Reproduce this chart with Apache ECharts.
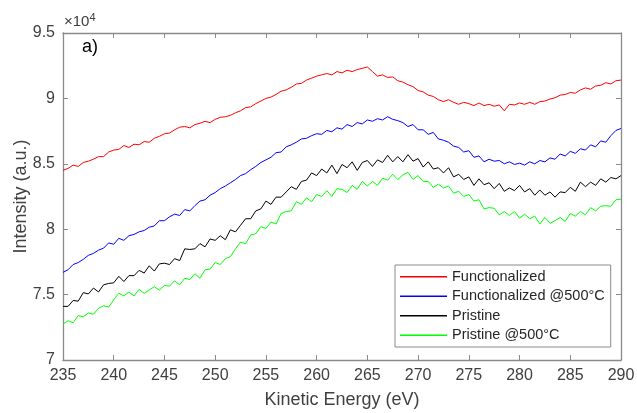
<!DOCTYPE html>
<html>
<head>
<meta charset="utf-8">
<script src="https://cdn.jsdelivr.net/npm/echarts@6/dist/echarts.min.js"></script>
<style>html,body{margin:0;padding:0;background:#fff;}#c{width:637px;height:413px;}</style>
</head>
<body>
<div id="c"></div>
<script>
const energy = [235,235.5,236,236.5,237,237.5,238,238.5,239,239.5,240,240.5,241,241.5,242,242.5,243,243.5,244,244.5,245,245.5,246,246.5,247,247.5,248,248.5,249,249.5,250,250.5,251,251.5,252,252.5,253,253.5,254,254.5,255,255.5,256,256.5,257,257.5,258,258.5,259,259.5,260,260.5,261,261.5,262,262.5,263,263.5,264,264.5,265,265.5,266,266.5,267,267.5,268,268.5,269,269.5,270,270.5,271,271.5,272,272.5,273,273.5,274,274.5,275,275.5,276,276.5,277,277.5,278,278.5,279,279.5,280,280.5,281,281.5,282,282.5,283,283.5,284,284.5,285,285.5,286,286.5,287,287.5,288,288.5,289,289.5,290];

const functionalized = [84500,84650,84900,84800,85100,85200,85350,85550,85550,85900,86050,86100,86400,86250,86500,86450,86700,86650,86950,87100,87300,87350,87600,87800,87850,87750,88000,88100,88250,88150,88400,88550,88600,88700,88900,89050,89300,89350,89600,89800,90000,90100,90300,90550,90650,90850,91100,91150,91400,91550,91700,91800,91900,91800,92050,91950,92150,92050,92200,92300,92400,92050,91700,91800,91600,91650,91350,91250,91050,90900,90600,90500,90250,90150,89900,89750,89900,89700,89550,89700,89600,89450,89650,89450,89550,89400,89500,89050,89550,89500,89650,89550,89700,89550,89750,89800,89950,90050,90250,90300,90450,90400,90650,90800,90700,90950,91000,91200,91100,91350,91400];

const functionalized500 = [76700,76900,77300,77450,77700,78000,78150,78400,78550,78950,78850,79300,79150,79500,79600,79800,79900,80150,80250,80650,80650,80950,81150,81050,81500,81400,81800,82150,82250,82600,82800,83100,83300,83550,83800,84100,84250,84550,84800,85100,85300,85500,85850,85900,86300,86450,86650,86900,86950,87150,87300,87250,87550,87450,87750,87650,88000,87850,88150,88050,88350,88250,88450,88350,88600,88400,88300,88150,87850,88000,87600,87600,87250,87400,86900,86800,86650,86350,86250,85900,86000,85500,85600,85150,85350,85200,85250,85000,85150,84950,85050,84900,85150,85000,85250,85150,85450,85350,85750,85600,85950,85800,86150,86050,86450,86300,86750,86650,87150,87550,87700];

const pristine = [74100,74100,74550,74500,75150,75050,75500,75200,75750,75850,75900,76400,76000,76450,76450,76850,76650,77200,76800,77350,77400,77300,77750,77600,78500,78450,78500,78900,78650,79250,79150,79500,79200,79950,79800,80300,80800,80800,81400,81550,82150,81900,82450,82450,82850,83250,83050,83650,83750,84300,84100,84600,84300,84900,84250,84950,84700,85150,84500,85100,85250,84800,85300,85100,85650,85150,85550,85150,85700,85200,85400,84750,85150,84600,84700,84300,84700,84000,84200,83800,84000,83350,83850,83400,83550,83100,83500,82900,83150,82950,83350,82850,83100,82600,83000,82600,82850,82450,82850,82800,83200,82900,83600,83250,83600,83350,83850,83600,83950,83850,84100];

const pristine500 = [72750,73000,72850,73400,73300,73600,73500,73950,74150,74050,74600,75100,74900,75200,74900,75400,75100,75350,75600,75350,75700,75650,76050,75750,76250,76150,76600,76250,76900,76950,77450,77300,77750,77900,78500,79000,78900,79550,79650,80200,80050,80550,80400,81200,81350,81400,82100,81900,82400,82100,82650,82500,82950,82500,83100,83050,82800,83350,83050,83650,83300,83650,83350,83900,83750,84200,83800,84150,84350,83800,84100,83650,83650,83200,83450,83150,83300,82750,82900,82500,82650,82150,82250,81550,81650,81600,81100,81350,81050,81350,80850,81150,80800,81000,80400,80900,80450,80650,80900,80600,81200,81000,81350,81100,81650,81400,81750,81800,81750,82250,82300];

const seriesNames = ['Functionalized', 'Functionalized @500°C', 'Pristine', 'Pristine @500°C'];
const seriesColors = ['#ff0000', '#0000ff', '#000000', '#00ff00'];
const seriesValues = [functionalized, functionalized500, pristine, pristine500];

const xTicks = {min: 235, max: 290, interval: 5};
const yTicks = {min: 70000, max: 95000, interval: 5000};

const chart = echarts.init(document.getElementById('c'), null, {renderer: 'canvas'});
const axisCol = '#8a8a8a';
const textCol = '#404040';
const fontFam = 'Liberation Sans, Arial, Helvetica, sans-serif';

function pairs(vals) { return energy.map((e, i) => [e, vals[i]]); }

const option = {
  animation: false,
  backgroundColor: '#ffffff',
  textStyle: {fontFamily: fontFam},
  grid: {left: 63, right: 16, top: 33, bottom: 53, containLabel: false, outerBoundsMode: 'none'},
  xAxis: [
    {type: 'value', min: xTicks.min, max: xTicks.max, interval: xTicks.interval, position: 'bottom',
     axisLine: {show: true, lineStyle: {color: axisCol, width: 1.3}},
     axisTick: {show: true, inside: true, length: 5, lineStyle: {color: axisCol}},
     axisLabel: {color: textCol, fontSize: 16, margin: 8, fontFamily: fontFam},
     splitLine: {show: false},
     name: 'Kinetic Energy (eV)', nameLocation: 'middle', nameGap: 31, nameMoveOverlap: false,
     nameTextStyle: {color: textCol, fontSize: 18, fontFamily: fontFam}},
    {type: 'value', min: xTicks.min, max: xTicks.max, interval: xTicks.interval, position: 'top',
     axisLine: {show: true, lineStyle: {color: axisCol, width: 1.3}},
     axisTick: {show: true, inside: true, length: 5, lineStyle: {color: axisCol}},
     axisLabel: {show: false}, splitLine: {show: false}}
  ],
  yAxis: [
    {type: 'value', min: yTicks.min, max: yTicks.max, interval: yTicks.interval, position: 'left',
     axisLine: {show: true, lineStyle: {color: axisCol, width: 1.3}},
     axisTick: {show: true, inside: true, length: 5, lineStyle: {color: axisCol}},
     axisLabel: {color: textCol, fontSize: 16, margin: 8, fontFamily: fontFam,
                 formatter: v => String(v / 10000)},
     splitLine: {show: false},
     name: 'Intensity (a.u.)', nameLocation: 'middle', nameGap: 33, nameRotate: 90, nameMoveOverlap: false,
     nameTextStyle: {color: textCol, fontSize: 18, fontFamily: fontFam}},
    {type: 'value', min: yTicks.min, max: yTicks.max, interval: yTicks.interval, position: 'right',
     axisLine: {show: true, lineStyle: {color: axisCol, width: 1.3}},
     axisTick: {show: true, inside: true, length: 5, lineStyle: {color: axisCol}},
     axisLabel: {show: false}, splitLine: {show: false}}
  ],
  legend: {
    orient: 'vertical', left: 395, top: 265,
    icon: 'rect', itemWidth: 47, itemHeight: 1.5, itemGap: 4,
    padding: [4, 6, 4, 5],
    borderColor: '#8a8a8a', borderWidth: 1, backgroundColor: '#ffffff',
    textStyle: {color: '#262626', fontSize: 14.5, fontFamily: fontFam, lineHeight: 15.5},
    data: seriesNames
  },
  series: seriesNames.map((n, i) => ({
    name: n, type: 'line', xAxisIndex: 0, yAxisIndex: 0,
    data: pairs(seriesValues[i]),
    symbol: 'none', showSymbol: false,
    lineStyle: {color: seriesColors[i], width: 1},
    itemStyle: {color: seriesColors[i]}
  })),
  graphic: [
    {type: 'text', left: 64, top: 12,
     style: {text: '×10{s|4}', fill: textCol, font: '15px ' + fontFam,
             rich: {s: {fontSize: 11, verticalAlign: 'top', padding: [0, 0, 8, 0], fill: textCol}}}},
    {type: 'text', left: 82, top: 38,
     style: {text: 'a)', fill: '#000000', font: '18px ' + fontFam}}
  ]
};
chart.setOption(option);
</script>
</body>
</html>
